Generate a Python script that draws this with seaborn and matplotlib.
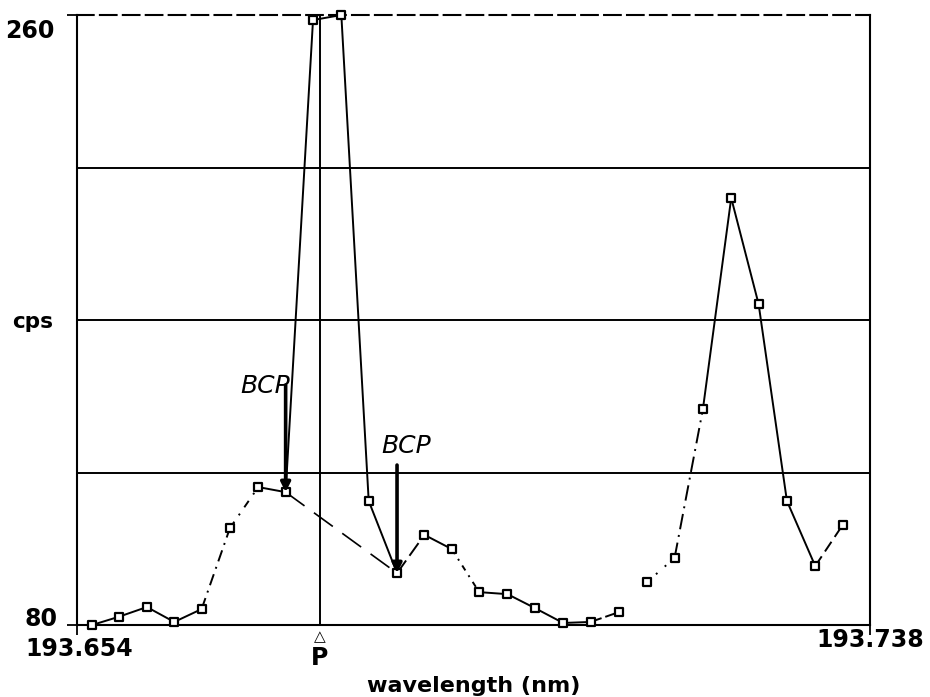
import matplotlib
matplotlib.use("Agg")
import matplotlib.pyplot as plt
import matplotlib.transforms as mtransforms
import seaborn as sns
import pandas as pd

# ---- data ----
wavelength = [193.6556, 193.6584, 193.6614, 193.6643, 193.6672, 193.6702, 193.6732,
              193.6761, 193.6790, 193.6820, 193.6849, 193.6879, 193.6908, 193.6937,
              193.6966, 193.6996, 193.7025, 193.7055, 193.7084, 193.7114, 193.7144,
              193.7173, 193.7203, 193.7233, 193.7262, 193.7292, 193.7322, 193.7351]
cps = [80.0, 82.4, 85.3, 80.9, 84.7, 108.6, 120.7,
       119.2, 258.5, 260.0, 116.6, 95.3, 106.6, 102.4,
       89.7, 89.1, 85.0, 80.6, 80.9, 83.8, 92.7,
       99.8, 143.7, 206.0, 174.7, 116.6, 97.4, 109.5]
peak_position = 193.6797
bcp_index = [7, 11]
bcp_label = "BCP"
bcp_text_x = [193.6739, 193.6889]
bcp_text_y = [150.4, 132.8]
bcp_arrow_start = [150.8, 127.2]
x_tick_values = [193.654, 193.6797, 193.738]
x_tick_labels = ["193.654", "P", "193.738"]
peak_mark = "\u25B3"
y_tick_values = [80, 170, 260]
y_tick_labels = ["80", "cps", "260"]
grid_values = [125, 170, 215]
x_title = "wavelength (nm)"

# line style of each segment between consecutive points (None = no line)
seg_styles = ['-', '-', '-', '-', (0, (6, 3, 1, 3)), (0, (4, 4, 1, 4)), '-', '-', '-',
              '-', '-', (0, (8, 3)), '-', (0, (3, 3, 1, 3)), '-', '-', '-', '-',
              (0, (6, 2)), None, (0, (1, 5)), (0, (8, 3, 1, 3)), '-', '-', '-', '-',
              (0, (6, 3))]

sns.set_theme(style="white")
plt.rcParams['font.family'] = ['DejaVu Sans']
plt.rcParams['text.color'] = 'black'
plt.rcParams['axes.labelcolor'] = 'black'
plt.rcParams['xtick.color'] = 'black'
plt.rcParams['ytick.color'] = 'black'

fig = plt.figure(figsize=(9.3, 6.97), dpi=100)
ax = fig.add_axes([77 / 930, 1 - 625 / 697, (870 - 77) / 930, (625 - 15) / 697])

df = pd.DataFrame({"wavelength": wavelength, "cps": cps})

# horizontal grid lines and peak marker line
for g in grid_values:
    ax.axhline(g, color='black', lw=1.4, zorder=1)
ax.axvline(peak_position, color='black', lw=1.4, zorder=1)

# segments
for i, st in enumerate(seg_styles):
    if st is None:
        continue
    seg = df.iloc[i:i + 2]
    sns.lineplot(data=seg, x="wavelength", y="cps", ax=ax, color='black',
                 lw=1.4, linestyle=st, sort=False, legend=False, zorder=2)

# background line between the two BCP points
bseg = df.iloc[bcp_index]
sns.lineplot(data=bseg, x="wavelength", y="cps", ax=ax, color='black', lw=1.2,
             linestyle=(0, (14, 7)), sort=False, legend=False, zorder=2)

# markers
sns.scatterplot(data=df, x="wavelength", y="cps", ax=ax, marker='s', s=40,
                facecolor='white', edgecolor='black', linewidth=1.6, zorder=4,
                clip_on=False, legend=False)

# BCP annotations
for k, idx in enumerate(bcp_index):
    ax.annotate("", xy=(wavelength[idx], cps[idx]),
                xytext=(wavelength[idx], bcp_arrow_start[k]),
                arrowprops=dict(arrowstyle='-|>', lw=2.6, color='black',
                                mutation_scale=14, shrinkA=0, shrinkB=0), zorder=5)
    ax.text(bcp_text_x[k], bcp_text_y[k], bcp_label, ha='center', va='center',
            fontsize=18, fontstyle='italic', color='black', zorder=6)

ax.set_xlim(193.654, 193.738)
ax.set_ylim(80, 260)

ax.set_xticks(x_tick_values)
ax.set_xticklabels(x_tick_labels, fontsize=17, fontweight='bold', color='black')
ax.set_yticks(y_tick_values)
ax.set_yticklabels(y_tick_labels, fontsize=17, fontweight='bold', color='black')
ax.tick_params(axis='both', which='both', length=7, width=1.3, color='black',
               direction='out', left=True, bottom=True)
ax.tick_params(axis='y', pad=6.7)
ax.tick_params(axis='x', pad=0)

def shift(label, dx_px, dy_px):
    label.set_transform(label.get_transform() +
                        mtransforms.ScaledTranslation(dx_px / 100, dy_px / 100,
                                                      fig.dpi_scale_trans))

ylabs = ax.get_yticklabels()
ylabs[1].set_fontsize(15.5)
shift(ylabs[0], 0, 8)
shift(ylabs[2], -3, -14)
shift(ylabs[1], -5, 0)
xlabs = ax.get_xticklabels()
shift(xlabs[0], 2, -2)
shift(xlabs[1], 0, -11)
shift(xlabs[2], 0, 7)
yticks = ax.yaxis.get_major_ticks()
yticks[1].tick1line.set_visible(False)
xticks = ax.xaxis.get_major_ticks()
xticks[1].tick1line.set_visible(False)

# little triangle mark above the P label
tri = ax.text(peak_position, 0, peak_mark, ha='center', va='top', fontsize=11,
              fontweight='bold', color='black')
tri.set_transform(ax.get_xaxis_transform() +
                  mtransforms.ScaledTranslation(0, -4 / 100, fig.dpi_scale_trans))

ax.set_xlabel(x_title, fontsize=16, fontweight='bold', color='black')
ax.xaxis.set_label_coords(0.5, (625 - 686) / 610)
ax.xaxis.label.set_va('center')
ax.set_ylabel("")

for side in ['left', 'bottom', 'right', 'top']:
    ax.spines[side].set_visible(True)
    ax.spines[side].set_color('black')
    ax.spines[side].set_linewidth(1.5)
ax.spines['top'].set_linestyle((0, (8, 3)))

fig.savefig("out.png", dpi=100)
